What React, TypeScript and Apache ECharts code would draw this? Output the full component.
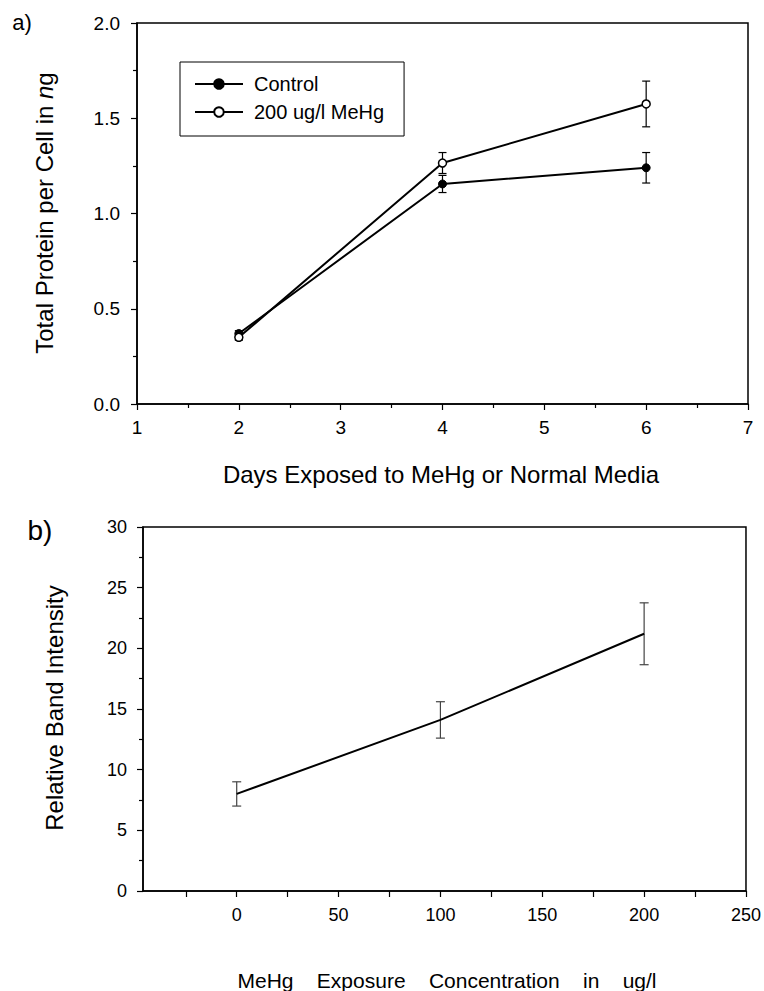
import React, { useEffect, useRef } from "react";
import * as echarts from "echarts";

// ---- Panel a) data ----
const days = [2, 4, 6];
const controlMean = [0.37, 1.155, 1.24];
const controlErr = [0.015, 0.045, 0.08];
const mehgMean = [0.35, 1.265, 1.575];
const mehgErr = [0.015, 0.055, 0.12];
const dayTicks = [1, 2, 3, 4, 5, 6, 7];

// ---- Panel b) data ----
const concentrations = [0, 100, 200];
const bandMean = [8.0, 14.1, 21.2];
const bandErr = [1.0, 1.5, 2.55];
const concLabels = [0, 50, 100, 150, 200, 250];
const concTicks = [-25, 0, 25, 50, 75, 100, 125, 150, 175, 200, 225, 250];

const FONT = "'Liberation Sans', Arial, Helvetica, sans-serif";

const errRender = (capW: number, color: string, width: number) => (params: any, api: any) => {
  const x = api.value(0);
  const lo = api.value(1);
  const hi = api.value(2);
  const pLo = api.coord([x, lo]);
  const pHi = api.coord([x, hi]);
  const style = { stroke: color, lineWidth: width, fill: null };
  return {
    type: "group",
    children: [
      { type: "line", shape: { x1: pLo[0], y1: pLo[1], x2: pHi[0], y2: pHi[1] }, style },
      { type: "line", shape: { x1: pLo[0] - capW / 2, y1: pLo[1], x2: pLo[0] + capW / 2, y2: pLo[1] }, style },
      { type: "line", shape: { x1: pHi[0] - capW / 2, y1: pHi[1], x2: pHi[0] + capW / 2, y2: pHi[1] }, style },
    ],
  };
};

export default function App() {
  const ref = useRef<HTMLDivElement>(null);
  useEffect(() => {
    document.body.style.margin = "0";
    if (!ref.current) return;
    const chart = echarts.init(ref.current, undefined, { renderer: "svg" });

    const axisLine = { show: true, onZero: false, lineStyle: { color: "#000", width: 1.5 } };
    const tick = { show: true, inside: false, length: 6, lineStyle: { color: "#000", width: 1.2 } };
    const minor = { show: true, splitNumber: 2, length: 4, lineStyle: { color: "#000", width: 1.2 } };

    const option: any = {
      animation: false,
      backgroundColor: "#fff",
      textStyle: { fontFamily: FONT },
      grid: [
        { left: 137, top: 23, width: 611, height: 381, show: true, borderColor: "#000", borderWidth: 1.5, backgroundColor: "transparent" },
        { left: 143, top: 527, width: 603, height: 364, show: true, borderColor: "#000", borderWidth: 1.5, backgroundColor: "transparent" },
      ],
      xAxis: [
        {
          gridIndex: 0, type: "value", min: dayTicks[0], max: dayTicks[dayTicks.length - 1], interval: 1,
          axisLine, axisTick: tick, minorTick: minor, splitLine: { show: false },
          axisLabel: { fontSize: 19, color: "#000", margin: 14, fontFamily: FONT },
        },
        {
          gridIndex: 1, type: "value", min: -46, max: 250,
          axisLine,
          axisTick: { ...tick, customValues: concTicks },
          minorTick: { show: false }, splitLine: { show: false },
          axisLabel: { fontSize: 18, color: "#000", margin: 15, fontFamily: FONT, customValues: concLabels },
        },
      ],
      yAxis: [
        {
          gridIndex: 0, type: "value", min: 0, max: 2, interval: 0.5,
          axisLine, axisTick: tick, minorTick: minor, splitLine: { show: false },
          axisLabel: { fontSize: 19, color: "#000", margin: 17, fontFamily: FONT, formatter: (v: number) => v.toFixed(1) },
        },
        {
          gridIndex: 1, type: "value", min: 0, max: 30, interval: 5,
          axisLine, axisTick: tick, minorTick: minor, splitLine: { show: false },
          axisLabel: { fontSize: 18, color: "#000", margin: 16, fontFamily: FONT },
        },
      ],
      legend: {
        data: ["Control", "200 ug/l MeHg"],
        orient: "vertical",
        left: 180,
        top: 62,
        borderColor: "#000",
        borderWidth: 1,
        padding: [12, 20, 14, 14],
        itemWidth: 48,
        itemHeight: 12,
        itemGap: 8,
        textStyle: { fontSize: 20, color: "#000", fontFamily: FONT, lineHeight: 18, padding: [0, 0, 0, 6] },
      },
      series: [
        {
          type: "custom", name: "ctrlErr", xAxisIndex: 0, yAxisIndex: 0, z: 1,
          renderItem: errRender(8, "#000", 1.2),
          encode: { x: 0, y: [1, 2] },
          data: days.map((d, i) => [d, controlMean[i] - controlErr[i], controlMean[i] + controlErr[i]]),
        },
        {
          type: "custom", name: "mehgErr", xAxisIndex: 0, yAxisIndex: 0, z: 1,
          renderItem: errRender(8, "#000", 1.2),
          encode: { x: 0, y: [1, 2] },
          data: days.map((d, i) => [d, mehgMean[i] - mehgErr[i], mehgMean[i] + mehgErr[i]]),
        },
        {
          type: "line", name: "Control", xAxisIndex: 0, yAxisIndex: 0, z: 3,
          data: days.map((d, i) => [d, controlMean[i]]),
          symbol: "circle", symbolSize: 8,
          itemStyle: { color: "#000", borderColor: "#000", borderWidth: 1 },
          lineStyle: { color: "#000", width: 2 },
        },
        {
          type: "line", name: "200 ug/l MeHg", xAxisIndex: 0, yAxisIndex: 0, z: 4,
          data: days.map((d, i) => [d, mehgMean[i]]),
          symbol: "circle", symbolSize: 8,
          itemStyle: { color: "#fff", borderColor: "#000", borderWidth: 1.5 },
          lineStyle: { color: "#000", width: 2 },
        },
        {
          type: "custom", name: "bandErr", xAxisIndex: 1, yAxisIndex: 1, z: 1,
          renderItem: errRender(9, "#444", 1.2),
          encode: { x: 0, y: [1, 2] },
          data: concentrations.map((c, i) => [c, bandMean[i] - bandErr[i], bandMean[i] + bandErr[i]]),
        },
        {
          type: "line", name: "band", xAxisIndex: 1, yAxisIndex: 1, z: 3,
          data: concentrations.map((c, i) => [c, bandMean[i]]),
          symbol: "none",
          lineStyle: { color: "#000", width: 2 },
        },
      ],
      graphic: [
        { type: "text", x: 22, y: 22, style: { text: "a)", fontSize: 22, fontFamily: FONT, fill: "#000", align: "center", verticalAlign: "middle" } },
        { type: "text", x: 40, y: 530, style: { text: "b)", fontSize: 28, fontFamily: FONT, fill: "#000", align: "center", verticalAlign: "middle" } },
        {
          type: "text", x: 44, y: 213, rotation: Math.PI / 2,
          style: {
            text: "Total Protein per Cell in {i|n}g", fontSize: 24, fontFamily: FONT, fill: "#000",
            align: "center", verticalAlign: "middle",
            rich: { i: { fontStyle: "italic", fontSize: 24, fontFamily: FONT, fill: "#000" } },
          },
        },
        { type: "text", x: 441, y: 474, style: { text: "Days Exposed to MeHg or Normal Media", fontSize: 24, fontFamily: FONT, fill: "#000", align: "center", verticalAlign: "middle" } },
        { type: "text", x: 54, y: 708, rotation: Math.PI / 2, style: { text: "Relative Band Intensity", fontSize: 24, fontFamily: FONT, fill: "#000", align: "center", verticalAlign: "middle" } },
        { type: "text", x: 447, y: 980, style: { text: "MeHg    Exposure    Concentration    in    ug/l", fontSize: 21, fontFamily: FONT, fill: "#000", align: "center", verticalAlign: "middle" } },
      ],
    };
    chart.setOption(option);
    return () => chart.dispose();
  }, []);
  return <div ref={ref} style={{ width: 764, height: 991 }} />;
}
